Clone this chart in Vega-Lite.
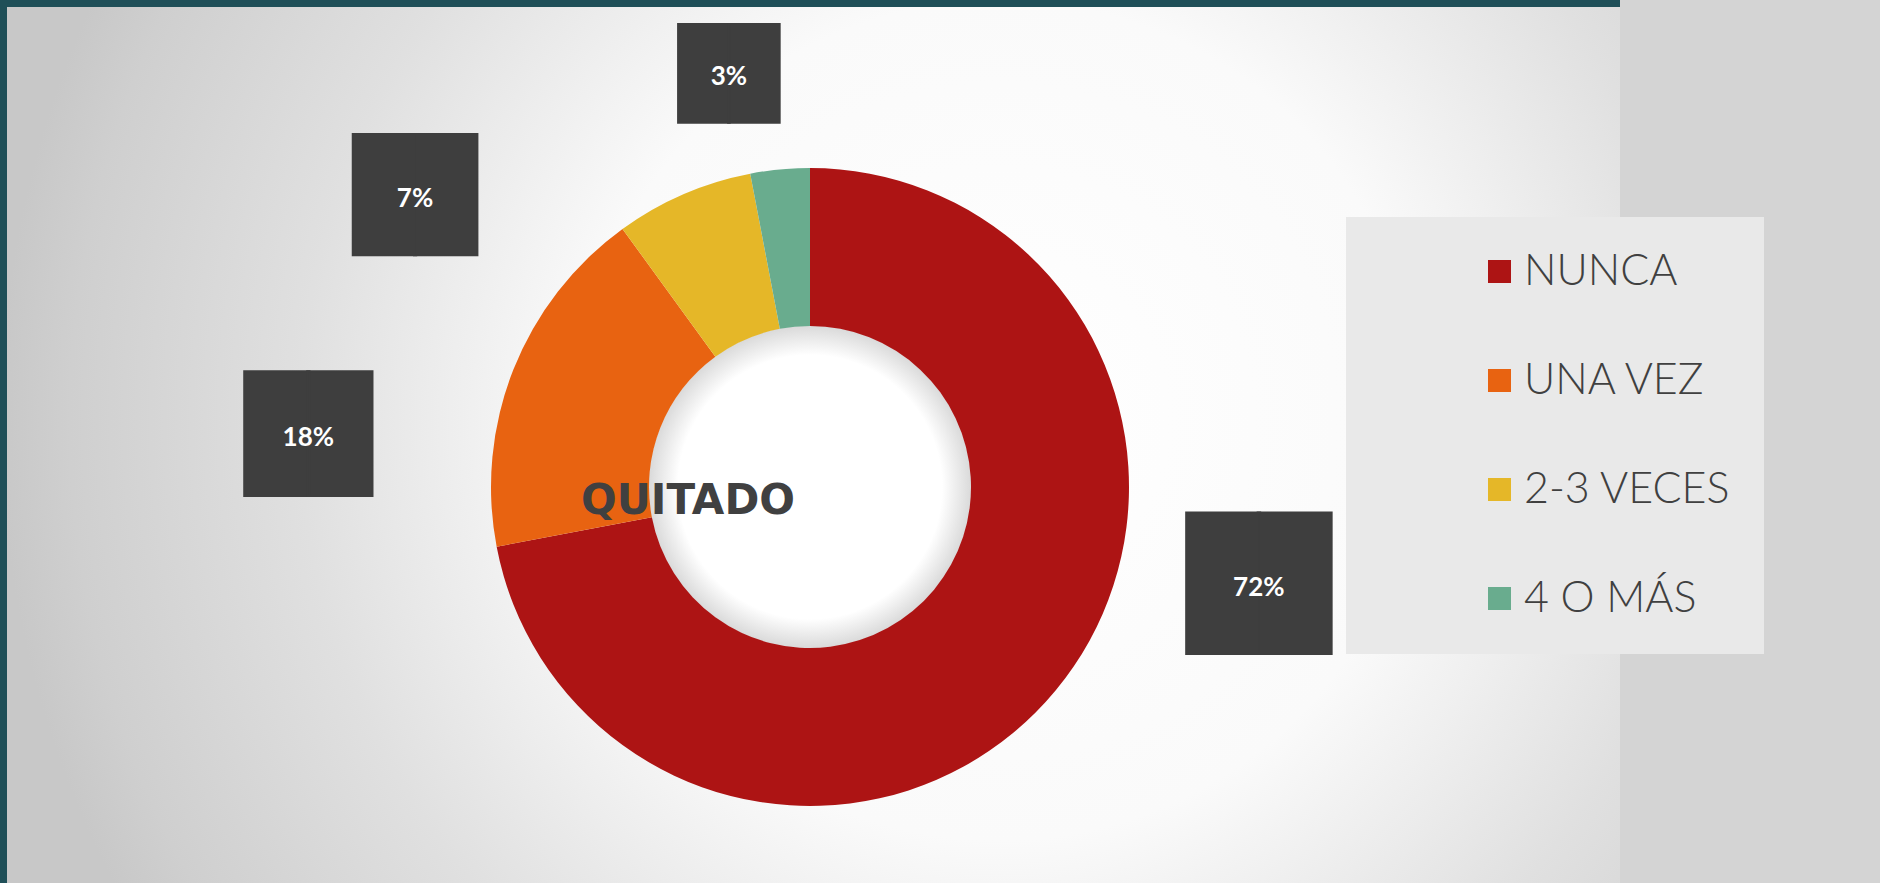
{
  "$schema": "https://vega.github.io/schema/vega-lite/v6.json",
  "width": 1620,
  "height": 974,
  "autosize": {"type": "none"},
  "padding": {"left": 0, "top": 0, "right": 260, "bottom": -91},
  "background": "#d4d4d4",
  "view": {
    "fill": {"gradient": "radial", "x1": 0.617, "y1": 0.459, "r1": 0, "x2": 0.617, "y2": 0.459, "r2": 0.617,
      "stops": [{"offset": 0, "color": "#ffffff"}, {"offset": 0.42, "color": "#fafafa"}, {"offset": 0.7, "color": "#e0e0e0"}, {"offset": 0.93, "color": "#cfcfcf"}, {"offset": 1, "color": "#c8c8c8"}]},
    "stroke": "#1f4f58",
    "strokeWidth": 14,
    "strokeDash": [1620, 2594, 974, 0]
  },
  "title": {
    "text": "QUITADO",
    "orient": "top",
    "anchor": "middle",
    "frame": "group",
    "offset": 0,
    "baseline": "middle",
    "dx": -122,
    "dy": 543,
    "font": "DejaVu Sans",
    "fontWeight": "bold",
    "fontSize": 42,
    "color": "#404040"
  },
  "data": {
    "values": [
      {"categoria": "NUNCA", "pct": 0.72},
      {"categoria": "UNA VEZ", "pct": 0.18},
      {"categoria": "2-3 VECES", "pct": 0.07},
      {"categoria": "4 O MÁS", "pct": 0.03}
    ]
  },
  "resolve": {"scale": {"theta": "independent", "radius": "independent", "size": "independent"}},
  "layer": [
    {
      "mark": {"type": "arc", "innerRadius": 0, "outerRadius": 161,
        "fill": {"gradient": "radial", "x1": 0.5, "y1": 0.5, "r1": 0, "x2": 0.5, "y2": 0.5, "r2": 0.5,
          "stops": [{"offset": 0, "color": "#ffffff"}, {"offset": 0.82, "color": "#ffffff"}, {"offset": 1, "color": "#dadada"}]}},
      "encoding": {}
    },
    {
      "mark": {"type": "arc", "innerRadius": 161, "outerRadius": 319},
      "encoding": {
        "theta": {"field": "pct", "type": "quantitative", "stack": true},
        "order": {"field": "pct", "type": "quantitative", "sort": "descending"},
        "color": {
          "field": "categoria", "type": "nominal",
          "scale": {"domain": ["NUNCA", "UNA VEZ", "2-3 VECES", "4 O MÁS"], "range": ["#ad1414", "#e86311", "#e5b728", "#69ac8e"]},
          "legend": {
            "title": null,
            "orient": "none",
            "legendX": 1346,
            "legendY": 217,
            "padding": 33,
            "symbolOffset": 99,
            "fillColor": "#e9e9e9",
            "symbolType": "square",
            "symbolSize": 529,
            "symbolStrokeWidth": 0,
            "labelFont": "Lato",
            "labelFontSize": 43,
            "labelFontWeight": 300,
            "labelColor": "#404040",
            "labelOffset": 3,
            "labelLimit": 600,
            "rowPadding": 65
          }
        }
      }
    },
    {
      "mark": {"type": "text", "font": "DejaVu Sans Mono", "color": "#3e3e3e", "stroke": "#3e3e3e", "strokeWidth": 2, "baseline": "middle", "align": "center"},
      "encoding": {
        "theta": {"field": "pct", "type": "quantitative", "stack": null,
          "scale": {"type": "linear", "domain": [0.03, 0.07, 0.18, 0.72], "range": [6.088, 5.343, 4.809, 1.792], "zero": false, "nice": false}},
        "radius": {"field": "pct", "type": "quantitative",
          "scale": {"type": "linear", "domain": [0.03, 0.07, 0.18, 0.72], "range": [418, 489, 504, 460], "zero": false, "nice": false}},
        "size": {"field": "pct", "type": "quantitative", "legend": null,
          "scale": {"type": "linear", "domain": [0.03, 0.07, 0.18, 0.72], "range": [83, 102, 105, 119], "zero": false, "nice": false}},
        "text": {"value": "██"}
      }
    },
    {
      "mark": {"type": "text", "font": "Lato", "fontWeight": "bold", "fontSize": 26, "color": "#ffffff", "baseline": "middle", "align": "center"},
      "encoding": {
        "theta": {"field": "pct", "type": "quantitative", "stack": null,
          "scale": {"type": "linear", "domain": [0.03, 0.07, 0.18, 0.72], "range": [6.088, 5.343, 4.809, 1.792], "zero": false, "nice": false}},
        "radius": {"field": "pct", "type": "quantitative",
          "scale": {"type": "linear", "domain": [0.03, 0.07, 0.18, 0.72], "range": [418, 489, 504, 460], "zero": false, "nice": false}},
        "text": {"field": "pct", "type": "quantitative", "format": ".0%"}
      }
    }
  ]
}
